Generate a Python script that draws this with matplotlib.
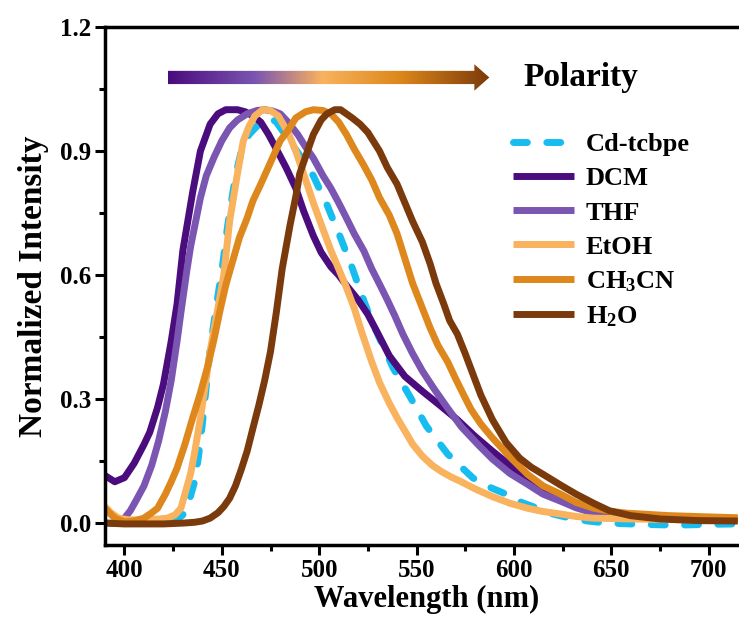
import numpy as np
import matplotlib
matplotlib.use('Agg')
from matplotlib import pyplot as plt
from matplotlib.colors import LinearSegmentedColormap
from matplotlib.patches import Polygon

plt.rcParams['font.family'] = 'Liberation Serif'
plt.rcParams['font.weight'] = 'bold'
plt.rcParams['axes.labelweight'] = 'bold'
plt.rcParams['mathtext.fontset'] = 'custom'
plt.rcParams['mathtext.rm'] = 'Liberation Serif:bold'
plt.rcParams['mathtext.bf'] = 'Liberation Serif:bold'
plt.rcParams['mathtext.default'] = 'bf'

# emission spectra (wavelength nm, normalized intensity)
cd_x = [390, 420, 426, 430, 433, 436, 438, 440, 442, 444, 447, 450, 453, 457, 460, 464, 468, 472, 475,
        478, 481, 484, 490, 497, 504, 511, 517, 522, 526, 530, 538, 547, 555, 566, 579, 587, 596, 604,
        612, 620, 629, 638, 648, 666, 683, 700, 715]
cd_y = [0.0, 0.0, 0.005, 0.02, 0.05, 0.1, 0.16, 0.24, 0.33, 0.42, 0.52, 0.61, 0.72, 0.84, 0.9, 0.94,
        0.96, 0.975, 0.98, 0.97, 0.95, 0.93, 0.89, 0.84, 0.77, 0.69, 0.617, 0.55, 0.50, 0.457, 0.375,
        0.303, 0.235, 0.167, 0.109, 0.088, 0.07, 0.05, 0.036, 0.022, 0.012, 0.005, 0.0, -0.003, -0.005,
        -0.003, -0.002]

dcm_x = [390, 395, 400, 405, 410, 413, 417, 420, 424, 427, 430, 435, 439, 444, 448, 452, 458, 462, 466,
         470, 474, 478, 483, 488, 492, 497, 501, 506, 510, 514, 520, 525, 530, 536, 544, 553, 562, 571,
         580, 589, 598, 607, 616, 624, 632, 641, 655, 670, 690, 715]
dcm_y = [0.115, 0.10, 0.11, 0.145, 0.19, 0.22, 0.28, 0.336, 0.44, 0.53, 0.66, 0.80, 0.90, 0.965, 0.99,
         1.0, 1.0, 0.995, 0.985, 0.97, 0.94, 0.905, 0.86, 0.81, 0.755, 0.695, 0.655, 0.62, 0.60, 0.575,
         0.54, 0.505, 0.46, 0.405, 0.355, 0.319, 0.285, 0.25, 0.21, 0.174, 0.14, 0.109, 0.08, 0.06,
         0.043, 0.029, 0.018, 0.012, 0.01, 0.008]

thf_x = [400, 403, 406, 410, 414, 417.5, 421, 424, 427, 429, 432, 434, 437, 439, 442, 446, 450, 454,
         458, 463, 468, 472, 476, 480, 484, 489, 493, 497, 502, 506, 510, 514, 518, 523, 527, 531, 535,
         539, 543, 548, 553, 559, 566, 573, 582, 589, 598, 607, 615, 624, 632, 641, 655, 670, 690, 715]
thf_y = [0.012, 0.03, 0.055, 0.09, 0.14, 0.198, 0.27, 0.345, 0.44, 0.51, 0.61, 0.67, 0.74, 0.787, 0.84,
         0.885, 0.925, 0.956, 0.975, 0.99, 0.998, 1.0, 0.997, 0.99, 0.97, 0.94, 0.91, 0.883, 0.84, 0.81,
         0.775, 0.738, 0.70, 0.658, 0.615, 0.578, 0.54, 0.50, 0.457, 0.41, 0.368, 0.325, 0.278, 0.233,
         0.188, 0.155, 0.12, 0.094, 0.07, 0.053, 0.037, 0.024, 0.015, 0.012, 0.01, 0.008]

etoh_x = [390, 393, 397, 402, 410, 418, 422, 426, 429, 431, 434, 436, 439, 442, 444, 448, 451, 454, 458,
          461, 464, 467, 471, 475, 479, 484, 488, 492, 497, 502, 506, 510, 514, 518, 522, 527, 531, 536,
          540, 548, 553, 558, 563, 568, 573, 580, 589, 598, 607, 615, 624, 632, 641, 660, 690, 715]
etoh_y = [0.04, 0.025, 0.012, 0.008, 0.008, 0.01, 0.012, 0.02, 0.036, 0.07, 0.12, 0.17, 0.254, 0.35,
          0.416, 0.52, 0.60, 0.73, 0.845, 0.924, 0.96, 0.985, 1.0, 0.998, 0.985, 0.945, 0.90, 0.845,
          0.775, 0.71, 0.66, 0.615, 0.57, 0.52, 0.46, 0.39, 0.34, 0.29, 0.255, 0.191, 0.162, 0.14,
          0.124, 0.111, 0.1, 0.083, 0.064, 0.048, 0.036, 0.028, 0.022, 0.016, 0.012, 0.01, 0.008, 0.007]

ch3cn_x = [390, 395, 400, 405, 410, 414, 417, 421, 424, 427, 431, 435, 439, 442.5, 446, 449, 452, 456,
           459, 463, 466, 470, 476, 480, 484, 488, 493, 497, 502, 506, 510, 514, 518, 522.6, 527, 531,
           536, 540, 544, 548, 553, 557, 561, 566, 570, 574, 578, 583, 589, 598, 607, 615, 624, 632,
           641, 650, 658, 680, 700, 715]
ch3cn_y = [0.035, 0.012, 0.003, 0.005, 0.012, 0.025, 0.036, 0.07, 0.1, 0.133, 0.19, 0.254, 0.315,
           0.375, 0.445, 0.513, 0.575, 0.641, 0.69, 0.738, 0.78, 0.82, 0.883, 0.925, 0.95, 0.98, 0.995,
           1.0, 0.998, 0.99, 0.97, 0.94, 0.905, 0.868, 0.83, 0.787, 0.745, 0.70, 0.64, 0.58, 0.52,
           0.472, 0.43, 0.39, 0.35, 0.312, 0.275, 0.24, 0.206, 0.16, 0.118, 0.09, 0.07, 0.05, 0.036,
           0.028, 0.024, 0.018, 0.015, 0.013]

h2o_x = [390, 400, 420, 430, 436, 440, 444, 448, 451, 454, 457, 460, 463, 466, 469, 472, 475, 478, 481,
         485, 488, 490, 494, 497, 501, 504, 508, 511, 514, 517, 521, 525, 531, 535, 540, 544, 548, 553,
         557, 560, 564, 567, 571, 575, 579, 583, 589, 596, 603, 609, 615, 624, 632, 641, 649, 660, 675,
         695, 715]
h2o_y = [0.0, -0.002, -0.002, 0.0, 0.002, 0.005, 0.012, 0.025, 0.04, 0.06, 0.09, 0.13, 0.174, 0.23,
         0.285, 0.345, 0.415, 0.51, 0.615, 0.72, 0.79, 0.845, 0.9, 0.94, 0.975, 0.99, 1.0, 1.0, 0.99,
         0.98, 0.965, 0.945, 0.90, 0.86, 0.82, 0.775, 0.73, 0.68, 0.627, 0.58, 0.53, 0.49, 0.457, 0.41,
         0.36, 0.31, 0.25, 0.195, 0.157, 0.135, 0.118, 0.092, 0.07, 0.048, 0.03, 0.018, 0.01, 0.006,
         0.005]

labels = ['Cd-tcbpe', 'DCM', 'THF', 'EtOH', 'CH$_3$CN', 'H$_2$O']
colors = ['#18BDF0', '#4B0C7D', '#7A55B1', '#F9B25E', '#DE871C', '#7B3A0B']
series = [(cd_x, cd_y), (dcm_x, dcm_y), (thf_x, thf_y), (etoh_x, etoh_y),
          (ch3cn_x, ch3cn_y), (h2o_x, h2o_y)]

# gradient stops of the polarity arrow
arrow_colors = ['#4B0C7D', '#7A55B1', '#F9B25E', '#DE871C', '#7B3A0B']
arrow_stops = [0.0, 0.27, 0.48, 0.72, 1.0]

fig = plt.figure(figsize=(7.39, 6.30), dpi=100)
ax = fig.add_axes([0.1421, 0.1349, 0.8694, 0.8222])

for (x, y), lab, c in zip(series, labels, colors):
    if lab == 'Cd-tcbpe':
        ax.plot(x, y, color=c, lw=5, ls=(0, (2.0, 2.8)), dash_capstyle='round',
                dash_joinstyle='round', label=lab)
    else:
        ax.plot(x, y, color=c, lw=5, solid_capstyle='butt', solid_joinstyle='round', label=lab)

ax.set_xlim(390, 720)
ax.set_ylim(-0.053, 1.2)
ax.set_xticks([400, 450, 500, 550, 600, 650, 700])
ax.set_yticks([0.0, 0.3, 0.6, 0.9, 1.2])
ax.set_yticklabels(['0.0', '0.3', '0.6', '0.9', '1.2'])
ax.set_xticks([425, 475, 525, 575, 625, 675], minor=True)
ax.set_yticks([0.15, 0.45, 0.75, 1.05], minor=True)
ax.tick_params(which='major', direction='out', length=7, width=2.2, labelsize=18, pad=3)
ax.tick_params(which='minor', direction='out', length=4, width=2.2)
ax.tick_params(top=False, right=False)
for s in ['left', 'bottom', 'top']:
    ax.spines[s].set_linewidth(2.5)
ax.spines['right'].set_visible(False)

ax.set_xlabel('Wavelength (nm)', fontsize=22, fontweight='bold', labelpad=2)
ax.set_ylabel('Normalized Intensity', fontsize=24, fontweight='bold', labelpad=8)

# gradient arrow
x0, x1, xh = 422.3, 587.4, 579.7
yc, hb, hh = 1.078, 0.016, 0.032
cmap = LinearSegmentedColormap.from_list('pol', list(zip(arrow_stops, arrow_colors)))
grad = np.linspace(0, 1, 256).reshape(1, -1)
arrow = Polygon([[x0, yc - hb], [xh, yc - hb], [xh, yc - hh], [x1, yc], [xh, yc + hh],
                 [xh, yc + hb], [x0, yc + hb]], closed=True, fc='none', ec='none')
ax.add_patch(arrow)
im = ax.imshow(grad, extent=[x0, x1, yc - hh, yc + hh], cmap=cmap, aspect='auto', zorder=3)
im.set_clip_path(arrow)
ax.text(605, 1.078, 'Polarity', fontsize=24, fontweight='bold', va='center', ha='left')

ax.legend(loc='upper left', bbox_to_anchor=(513 / 739, 1 - 133 / 630), bbox_transform=fig.transFigure,
          frameon=False, fontsize=19, handlelength=2.3, handletextpad=0.45, labelspacing=0.4,
          borderpad=0, borderaxespad=0)

plt.savefig('out.png', dpi=100)
